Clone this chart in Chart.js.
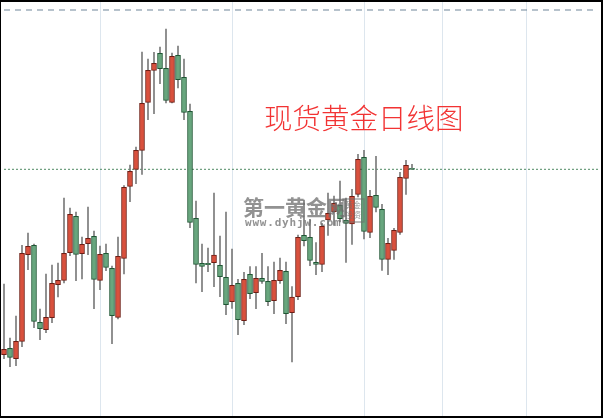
<!DOCTYPE html>
<html>
<head>
<meta charset="utf-8">
<script src="https://cdn.jsdelivr.net/npm/chart.js@4.4.0/dist/chart.umd.min.js"></script>
<style>
  html, body { margin: 0; padding: 0; background: #fff; }
  #box {
    width: 603px; height: 418px; box-sizing: border-box;
    border: 2px solid #000; border-left-width: 1px;
    position: relative; background: #fff;
  }
</style>
</head>
<body>
<div id="box"><canvas id="myChart"></canvas></div>
<script>
// daily candles (arbitrary price units)
const open  = [61.3,67.7,57.3,74.7,161.3,170.7,93.7,86.3,98.3,131.3,135.7,163.3,199.7,162.3,172.3,179.7,135.7,162.7,147.7,98.7,
               157.7,229.7,246.7,265.7,313.7,345.7,362.7,347.7,313.7,360.7,338.7,304.7,197.7,152.7,152.7,153.3,150.7,138.7,114.3,132.7,
               95.3,141.7,123.3,137.7,134.7,115.3,135.3,144.7,103.3,119.3,180.7,178.7,153.7,151.7,196,204,210.7,196,192,221.7,
               258.7,183.7,220.7,206.7,156.7,165.7,183.7,237.7,247.7]
const high  = [132,78,100,170.7,183,172,107,142,151,153,218,208,204,179,209,185,170,172,150,179,
               230.3,251,269,364,357,363.7,369,387,363,370,357,312,215,172,168,223,180,204,167,136.7,
               143.7,149.3,149.3,162.7,149.3,154,158,154,129.3,181,216,196.7,173.3,192.7,223,220,235,218,226.7,261.7,
               265.7,225.7,259.7,211.7,177.7,187.7,243.7,255.7,251.7]
const low   = [57.3,49.3,50.3,69.3,146.3,88.3,76.3,83.3,93.3,119,133,160.3,135.3,137,161.3,107.3,126.3,145.3,72.3,97,
               142,214.3,232.3,241.7,296.3,302.3,332.3,313,313,328,296.3,188.3,133,124.3,144.3,129.3,119.3,101.3,107.7,81.3,
               91.3,117.3,107.3,132.7,110.3,102.3,132.7,92.3,54,116.3,170,150.3,141.3,144.3,180.7,190.7,194,153.7,171.7,219,
               177,178.3,204,145.7,141.3,156.7,181.7,221.7,246.7]
const close = [66.7,58.7,74.7,162.7,169.7,94.7,87.3,98.7,132.7,135.7,162.7,201.7,161.7,171.7,177.7,136.7,161.7,148.7,100.3,159.7,
               228.7,244.7,265.7,312.7,345.7,352.7,347.3,315.7,359.7,336.3,303.7,193.7,151.7,149.7,151.3,161,139.3,111.3,130.7,96.3,
               136.7,122.3,137.7,134.7,114.3,135.7,145.7,102.3,119,178.7,175.3,155.7,151.7,189.7,202.7,212.7,197.3,192.7,219.7,256.7,
               184.7,219.7,208.7,156.7,172.7,185.7,238.7,250.7,246.7]

const slots = 100                       // empty days keep running to the right edge
const labels = []
for (let i = 0; i < slots; i++) labels.push('D' + (i + 1))
const gridDays = [16, 38, 60, 73, 87]   // vertical separators
const topRef = 406                      // dashed reference line
const lastPrice = close[close.length - 1]

const upFill = '#d9503d', upLine = '#6e1d14'
const downFill = '#68a67e', downLine = '#1f5634'

let up = close.map((c, i) => c >= open[i])

const textPlugin = {
    id: 'texts',
    afterDatasetsDraw(chart) {
        const c = chart.ctx
        c.save()
        // watermark
        c.fillStyle = 'rgba(110,110,110,0.75)'
        c.font = 'bold 21px "Noto Sans CJK SC"'
        c.textBaseline = 'middle'
        c.fillText('第一黄金网', 242, 205)
        c.strokeStyle = 'rgba(110,110,110,0.6)'
        c.lineWidth = 1.5
        c.strokeRect(342, 197, 21, 23)
        c.font = '8px "Noto Sans CJK SC"'
        c.fillText('黄金', 344, 203)
        c.fillText('投资', 344, 213)
        c.font = 'bold 11px "DejaVu Sans Mono"'
        c.letterSpacing = '0.8px'
        c.fillText('www.dyhjw.com', 244, 221)
        c.letterSpacing = '0px'
        // title
        c.fillStyle = '#f23333'
        c.font = '300 28.5px "Noto Sans CJK SC"'
        c.fillText('现货黄金日线图', 263, 116)
        c.restore()
    }
}

const ctx = document.getElementById('myChart').getContext('2d')
new Chart(ctx, {
    type: 'bar',
    data: {
        labels: labels,
        datasets: [
            {
                label: 'body',
                data: open.map((o, i) => [o, close[i]]),
                backgroundColor: up.map(u => u ? upFill : downFill),
                borderColor: up.map(u => u ? upLine : downLine),
                borderWidth: 1,
                borderSkipped: false,
                barThickness: 5,
                grouped: false,
                order: 0
            },
            {
                label: 'wick',
                data: low.map((l, i) => [l, high[i]]),
                backgroundColor: '#7a7a7a',
                barThickness: 1,
                grouped: false,
                order: 1
            },
            {
                type: 'line',
                label: 'price',
                data: labels.map(() => lastPrice),
                borderColor: '#4f8a63',
                borderWidth: 1,
                borderDash: [2, 2],
                pointRadius: 0,
                order: 2
            },
            {
                type: 'line',
                label: 'ref',
                data: labels.map(() => topRef),
                borderColor: '#6f8599',
                borderWidth: 1,
                borderDash: [6, 5],
                pointRadius: 0,
                order: 2
            }
        ]
    },
    options: {
        responsive: true,
        maintainAspectRatio: false,
        animation: false,
        layout: { padding: 0 },
        plugins: {
            legend: { display: false },
            tooltip: { enabled: false }
        },
        scales: {
            x: {
                offset: true,
                ticks: { display: false, autoSkip: false },
                border: { display: false },
                grid: {
                    offset: false,
                    drawTicks: false,
                    lineWidth: 1,
                    color: (c) => gridDays.includes(c.index) ? '#dde6ee' : 'rgba(0,0,0,0)'
                },
                afterFit: (s) => { s.height = 0 }
            },
            y: {
                display: false,
                min: 0,
                max: 414
            }
        }
    },
    plugins: [textPlugin]
});
</script>
</body>
</html>
